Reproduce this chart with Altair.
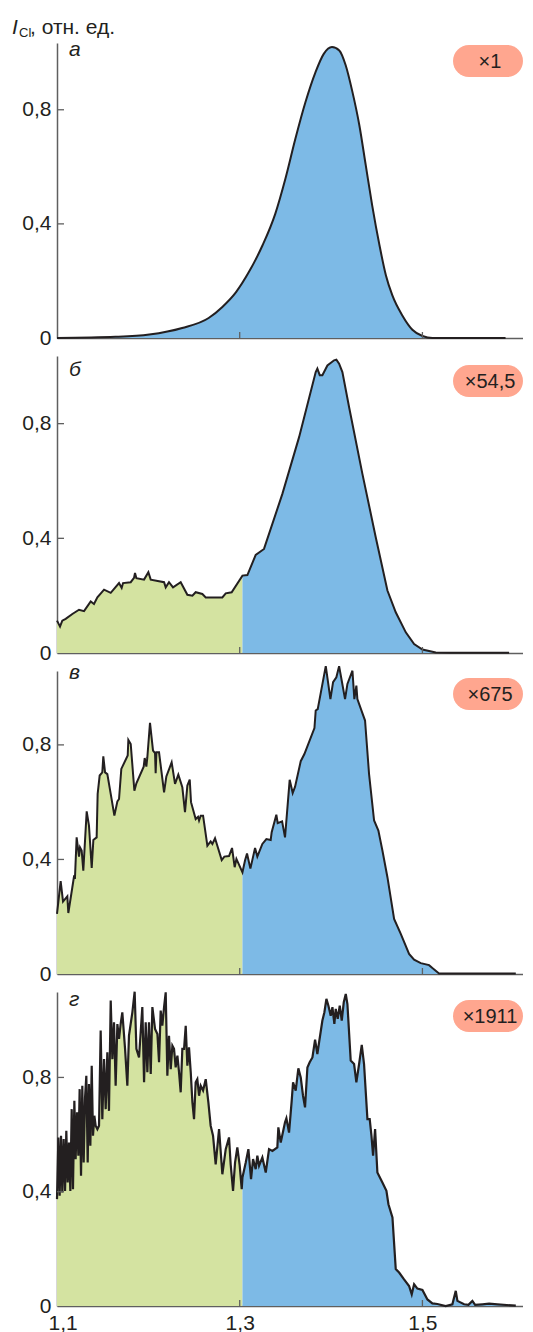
import altair as alt
import pandas as pd

# ---------------- data ----------------
SPLIT = 1.303  # green / blue boundary on the x axis

A_X = [1.100, 1.164, 1.201, 1.237, 1.266, 1.281, 1.296, 1.310, 1.325, 1.339, 1.350, 1.361,
       1.372, 1.383, 1.392, 1.401, 1.409, 1.416, 1.423, 1.431, 1.438, 1.445, 1.453, 1.460,
       1.467, 1.478, 1.489, 1.500, 1.511, 1.591]
A_Y = [0.0, 0.004, 0.012, 0.035, 0.070, 0.109, 0.161, 0.231, 0.325, 0.436, 0.558, 0.699,
       0.827, 0.932, 0.996, 1.020, 1.008, 0.956, 0.868, 0.745, 0.605, 0.465, 0.325, 0.220,
       0.150, 0.079, 0.029, 0.007, 0.0, 0.0]

B_X = [1.1000, 1.1033, 1.1058, 1.1095, 1.1168, 1.1241, 1.1296, 1.1369, 1.1405, 1.1442,
       1.1515, 1.1588, 1.1679, 1.1708, 1.1723, 1.1807, 1.1843, 1.1854, 1.1869, 1.1953,
       1.2000, 1.2026, 1.2172, 1.2190, 1.2226, 1.2270, 1.2354, 1.2427, 1.2482, 1.2518,
       1.2591, 1.2628, 1.2810, 1.2847, 1.2912, 1.3030, 1.3084, 1.3175, 1.3266, 1.3467,
       1.3650, 1.3832, 1.3850, 1.3876, 1.3905, 1.3960, 1.4033, 1.4058, 1.4088, 1.4124,
       1.4197, 1.4343, 1.4489, 1.4617, 1.4708, 1.4818, 1.4909, 1.5000, 1.5146, 1.5292,
       1.5949]
B_Y = [0.113, 0.092, 0.113, 0.119, 0.136, 0.151, 0.146, 0.180, 0.171, 0.194,
       0.221, 0.210, 0.244, 0.227, 0.244, 0.247, 0.262, 0.279, 0.261, 0.256,
       0.282, 0.256, 0.247, 0.229, 0.247, 0.229, 0.247, 0.203, 0.200, 0.212,
       0.206, 0.194, 0.194, 0.208, 0.212, 0.270, 0.272, 0.342, 0.363, 0.555,
       0.753, 0.980, 0.992, 0.969, 0.969, 1.003, 1.021, 1.023, 1.009, 0.980,
       0.858, 0.625, 0.404, 0.218, 0.142, 0.072, 0.031, 0.012, 0.002, 0.001,
       0.001]

C_X = [1.1000, 1.1040, 1.1066, 1.1113, 1.1124, 1.1168, 1.1186, 1.1197, 1.1215, 1.1241,
       1.1252, 1.1270, 1.1288, 1.1325, 1.1350, 1.1380, 1.1398, 1.1434, 1.1445, 1.1467,
       1.1496, 1.1507, 1.1526, 1.1551, 1.1588, 1.1628, 1.1661, 1.1679, 1.1704, 1.1774,
       1.1781, 1.1807, 1.1847, 1.1869, 1.1949, 1.1960, 1.1978, 1.1989, 1.2018, 1.2051,
       1.2073, 1.2080, 1.2088, 1.2117, 1.2172, 1.2197, 1.2255, 1.2292, 1.2328, 1.2372,
       1.2401, 1.2427, 1.2453, 1.2467, 1.2518, 1.2544, 1.2555, 1.2573, 1.2599, 1.2646,
       1.2682, 1.2701, 1.2730, 1.2803, 1.2832, 1.2883, 1.2916, 1.2945, 1.2964, 1.3030,
       1.3058, 1.3080, 1.3117, 1.3168, 1.3193, 1.3248, 1.3292, 1.3339, 1.3350, 1.3401,
       1.3416, 1.3464, 1.3496, 1.3547, 1.3580, 1.3606, 1.3668, 1.3708, 1.3818, 1.3832,
       1.3854, 1.3942, 1.3993, 1.4022, 1.4058, 1.4088, 1.4117, 1.4153, 1.4179, 1.4234,
       1.4255, 1.4277, 1.4288, 1.4372, 1.4416, 1.4471, 1.4518, 1.4562, 1.4617, 1.4690,
       1.4763, 1.4854, 1.4909, 1.4982, 1.5073, 1.5109, 1.5182, 1.6022]
C_Y = [0.210, 0.324, 0.253, 0.271, 0.213, 0.303, 0.340, 0.338, 0.477, 0.410,
       0.442, 0.431, 0.361, 0.568, 0.518, 0.370, 0.468, 0.477, 0.629, 0.693,
       0.704, 0.760, 0.704, 0.698, 0.629, 0.553, 0.603, 0.611, 0.716, 0.763,
       0.817, 0.803, 0.640, 0.666, 0.724, 0.754, 0.724, 0.757, 0.877, 0.780,
       0.771, 0.701, 0.774, 0.774, 0.634, 0.690, 0.739, 0.664, 0.696, 0.652,
       0.565, 0.658, 0.679, 0.600, 0.541, 0.549, 0.536, 0.553, 0.553, 0.448,
       0.463, 0.454, 0.474, 0.398, 0.410, 0.412, 0.440, 0.373, 0.402, 0.355,
       0.396, 0.421, 0.368, 0.440, 0.410, 0.454, 0.471, 0.468, 0.495, 0.556,
       0.527, 0.533, 0.477, 0.678, 0.632, 0.654, 0.743, 0.768, 0.859, 0.920,
       0.925, 1.075, 0.960, 1.019, 1.036, 1.075, 1.024, 0.960, 1.013, 1.059,
       0.960, 1.007, 0.960, 0.885, 0.698, 0.536, 0.501, 0.431, 0.338, 0.192,
       0.140, 0.070, 0.050, 0.038, 0.031, 0.021, 0.002, 0.002]

D_X = [1.1000, 1.1015, 1.1029, 1.1044, 1.1058, 1.1073, 1.1088, 1.1102, 1.1117, 1.1131,
       1.1146, 1.1161, 1.1175, 1.1190, 1.1204, 1.1219, 1.1234, 1.1248, 1.1263, 1.1277,
       1.1292, 1.1307, 1.1321, 1.1336, 1.1350, 1.1365, 1.1380, 1.1394, 1.1409, 1.1423,
       1.1442, 1.1460, 1.1478, 1.1496, 1.1515, 1.1533, 1.1551, 1.1569, 1.1588, 1.1606,
       1.1624, 1.1642, 1.1661, 1.1679, 1.1697, 1.1715, 1.1745, 1.1770, 1.1788, 1.1825,
       1.1850, 1.1869, 1.1898, 1.1934, 1.1953, 1.1971, 1.1989, 1.2007, 1.2026, 1.2044,
       1.2073, 1.2099, 1.2117, 1.2135, 1.2153, 1.2172, 1.2190, 1.2208, 1.2226, 1.2245,
       1.2263, 1.2281, 1.2299, 1.2318, 1.2336, 1.2354, 1.2372, 1.2391, 1.2409, 1.2427,
       1.2445, 1.2464, 1.2482, 1.2500, 1.2518, 1.2536, 1.2555, 1.2573, 1.2599, 1.2628,
       1.2657, 1.2682, 1.2708, 1.2737, 1.2774, 1.2810, 1.2847, 1.2883, 1.2901, 1.2927,
       1.2949, 1.2974, 1.3000, 1.3022, 1.3030,
       1.3066, 1.3095, 1.3124, 1.3146, 1.3175, 1.3193, 1.3212, 1.3248, 1.3285, 1.3321,
       1.3358, 1.3412, 1.3423, 1.3449, 1.3496, 1.3511, 1.3540, 1.3569, 1.3584, 1.3613,
       1.3642, 1.3668, 1.3693, 1.3715, 1.3741, 1.3766, 1.3796, 1.3825, 1.3850, 1.3869,
       1.3905, 1.3927, 1.3949, 1.3971, 1.3996, 1.4015, 1.4036, 1.4051, 1.4073, 1.4095,
       1.4117, 1.4139, 1.4161, 1.4179, 1.4215, 1.4252, 1.4277, 1.4307, 1.4336, 1.4361,
       1.4398, 1.4423, 1.4442, 1.4460, 1.4482, 1.4507, 1.4562, 1.4606, 1.4628, 1.4672,
       1.4708, 1.4745, 1.4799, 1.4854, 1.4883, 1.4909, 1.4945, 1.5000, 1.5055, 1.5109,
       1.5164, 1.5255, 1.5328, 1.5365, 1.5383, 1.5456, 1.5504, 1.5547, 1.5577, 1.5657,
       1.5730, 1.5821, 1.6022]
D_Y = [0.374, 0.590, 0.386, 0.596, 0.397, 0.584, 0.403, 0.613, 0.432, 0.572,
       0.403, 0.689, 0.409, 0.718, 0.514, 0.678, 0.526, 0.759, 0.456, 0.771,
       0.502, 0.730, 0.806, 0.502, 0.777, 0.561, 0.841, 0.596, 0.666, 0.631,
       0.619, 0.631, 0.964, 0.654, 0.864, 0.689, 0.888, 0.683, 1.069, 0.864,
       0.993, 0.771, 0.987, 0.935, 0.987, 1.028, 0.900, 0.771, 0.946, 1.028,
       1.100, 0.900, 0.870, 1.046, 0.783, 0.993, 0.818, 0.993, 0.812, 1.046,
       0.970, 0.952, 0.853, 1.034, 0.981, 1.046, 1.098, 0.806, 0.946, 0.829,
       0.911, 0.900, 0.835, 0.876, 0.818, 0.748, 0.900, 0.900, 0.981, 0.841,
       0.905, 0.818, 0.713, 0.654, 0.783, 0.794, 0.736, 0.771, 0.754, 0.794,
       0.713, 0.631, 0.596, 0.496, 0.619, 0.461, 0.549, 0.590, 0.496, 0.403,
       0.502, 0.555, 0.491, 0.409, 0.450,
       0.502, 0.549, 0.444, 0.514, 0.479, 0.526, 0.491, 0.520, 0.467, 0.549,
       0.543, 0.555, 0.625, 0.572, 0.643, 0.657, 0.607, 0.718, 0.783, 0.754,
       0.832, 0.800, 0.736, 0.695, 0.835, 0.853, 0.870, 0.932, 0.882, 0.923,
       0.999, 1.028, 1.075, 1.051, 1.016, 1.046, 0.987, 1.040, 1.005, 1.051,
       0.999, 1.063, 1.092, 1.057, 0.859, 0.847, 0.783, 0.847, 0.914, 0.847,
       0.654, 0.654, 0.596, 0.526, 0.619, 0.467, 0.432, 0.403, 0.356, 0.310,
       0.129, 0.117, 0.093, 0.070, 0.041, 0.076, 0.061, 0.056, 0.023, 0.009,
       0.007, 0.000, 0.006, 0.053, 0.018, 0.006, 0.004, 0.018, 0.004, 0.006,
       0.008, 0.006, 0.001]

PANEL_LETTERS = ["а", "б", "в", "г"]
BADGES = ["×1", "×54,5", "×675", "×1911"]
X_TICKS = [1.3, 1.5]
Y_TICKS = [0.4, 0.8]
X_LABELS = [1.1, 1.3, 1.5]
Y_LABELS = [0, 0.4, 0.8]
X_DOMAIN = [1.1, 1.6101]

# ---------------- style ----------------
BLUE = "#7dbae6"
GREEN = "#d4e3a1"
LINE = "#231f20"
BADGE = "#ffa68f"
AXIS = "#5f5f5f"
FONT = "Liberation Sans"
W = 466

LABEL_EXPR = "datum.value == 0 ? '0' : replace(format(datum.value, '.1f'), '.', ',')"


def panel(xs, ys, ymax, height, letter, badge, letter_y, badge_y,
          interp="linear", all_blue=False, show_x=False, title=False, lw=2.0):
    xscale = alt.Scale(domain=X_DOMAIN, nice=False, zero=False)
    yscale = alt.Scale(domain=[0, ymax], nice=False)
    xaxis = alt.Axis(values=X_LABELS, labels=show_x, ticks=False, grid=False, title=None,
                     labelExpr=LABEL_EXPR, labelPadding=6, labelFlush=True,
                     labelFlushOffset=9)
    yaxis = alt.Axis(values=Y_LABELS, ticks=False, grid=False, title=None,
                     labelExpr=LABEL_EXPR, labelPadding=6)
    X = alt.X("x:Q", scale=xscale, axis=xaxis)
    Y = alt.Y("y:Q", scale=yscale, axis=yaxis, stack=None)

    rows = []
    for x, y in zip(xs, ys):
        if all_blue:
            rows.append({"x": x, "y": y, "part": "b"})
        else:
            if x <= SPLIT:
                rows.append({"x": x, "y": y, "part": "g"})
            if x >= SPLIT:
                rows.append({"x": x, "y": y, "part": "b"})
    area_df = pd.DataFrame(rows)
    line_df = pd.DataFrame({"x": xs, "y": ys})

    area = alt.Chart(area_df).mark_area(interpolate=interp).encode(
        x=X, y=Y,
        color=alt.Color("part:N", scale=alt.Scale(domain=["g", "b"], range=[GREEN, BLUE]),
                        legend=None),
    )
    line = alt.Chart(line_df).mark_line(interpolate=interp, color=LINE, strokeWidth=lw).encode(
        x=X, y=Y)

    xt = alt.Chart(pd.DataFrame({"x": X_TICKS})).mark_rule(color=AXIS, strokeWidth=1.3).encode(
        x=X, y=alt.value(height), y2=alt.value(height - 6))
    yt = alt.Chart(pd.DataFrame({"y": Y_TICKS})).mark_rule(color=AXIS, strokeWidth=1.3).encode(
        y=Y, x=alt.value(0), x2=alt.value(7))

    one = pd.DataFrame({"k": [0]})
    let = alt.Chart(one).mark_text(text=letter, font=FONT, fontSize=21, fontStyle="italic",
                                   align="left", baseline="alphabetic", color=LINE).encode(
        x=alt.value(12), y=alt.value(letter_y))
    brect = alt.Chart(one).mark_rect(color=BADGE, cornerRadius=16).encode(
        x=alt.value(396), x2=alt.value(W), y=alt.value(badge_y - 16), y2=alt.value(badge_y + 16))
    btext = alt.Chart(one).mark_text(text=badge, font=FONT, fontSize=20, align="center",
                                     baseline="middle", color=LINE).encode(
        x=alt.value(433), y=alt.value(badge_y + 1))

    layers = [area, line, xt, yt, let, brect, btext]
    if title:
        t1 = alt.Chart(one).mark_text(text="I", font=FONT, fontSize=21, fontStyle="italic",
                                      align="left", baseline="alphabetic", color=LINE).encode(
            x=alt.value(-45), y=alt.value(-9))
        t2 = alt.Chart(one).mark_text(text="Cl", font=FONT, fontSize=13,
                                      align="left", baseline="alphabetic", color=LINE).encode(
            x=alt.value(-38), y=alt.value(-6))
        t3 = alt.Chart(one).mark_text(text=", отн. ед.", font=FONT, fontSize=21,
                                      align="left", baseline="alphabetic", color=LINE).encode(
            x=alt.value(-27), y=alt.value(-9))
        layers += [t1, t2, t3]
    return alt.layer(*layers).properties(width=W, height=height)


pa = panel(A_X, A_Y, 1.034, 295, PANEL_LETTERS[0], BADGES[0], 13, 18,
           interp="monotone", all_blue=True, title=True)
pb = panel(B_X, B_Y, 1.036, 297, PANEL_LETTERS[1], BADGES[1], 20, 25)
pc = panel(C_X, C_Y, 1.058, 303, PANEL_LETTERS[2], BADGES[2], 8, 23)
pd_ = panel(D_X, D_Y, 1.099, 314, PANEL_LETTERS[3], BADGES[3], 14, 24, show_x=True, lw=2.2)

chart = alt.vconcat(pa, pb, pc, pd_, spacing=18, bounds="flush").properties(
    padding={"left": 4, "top": 9, "right": 0, "bottom": 0}
).configure_view(stroke=None).configure_axis(
    domainColor=AXIS, domainWidth=1.5, labelFont=FONT, labelFontSize=21, labelColor=LINE
)

chart.save("out.html", embed_options={"renderer": "svg", "actions": False})
